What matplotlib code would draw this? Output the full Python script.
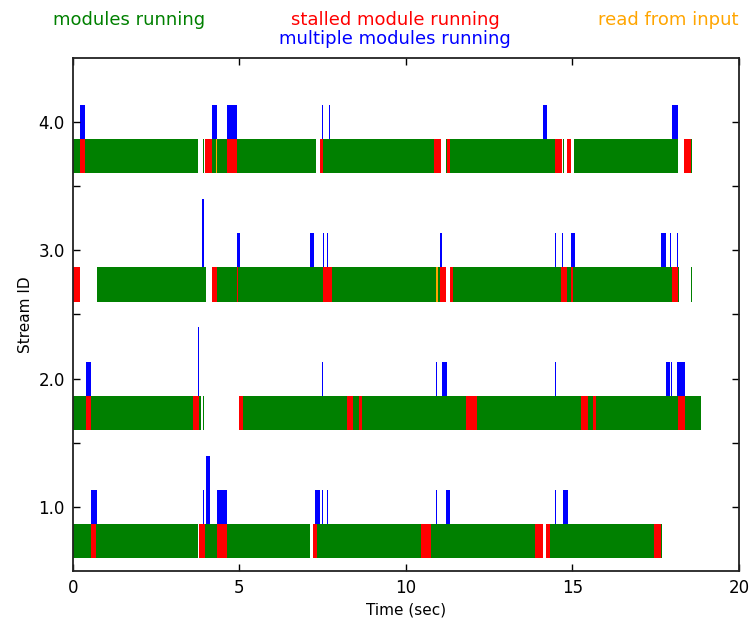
import matplotlib
matplotlib.use("Agg")
import matplotlib.pyplot as plt
from matplotlib.ticker import FixedLocator, FormatStrFormatter

# ---------------- data (seconds) ----------------
stream_ids = [1, 2, 3, 4]
x_ticks = [0, 5, 10, 15, 20]
y_ticks = [1.0, 2.0, 3.0, 4.0]

# stream 1
s1_running = [(0, 3.75), (3.78, 7.12), (7.21, 14.10), (14.20, 17.69)]
s1_stalled = [(0.54, 0.69), (3.78, 3.97), (4.34, 4.63), (7.21, 7.33), (10.45, 10.75),
              (13.88, 14.10), (14.20, 14.32), (17.45, 17.67)]
s1_multi = [(0.54, 0.71), (3.90, 3.93), (4.34, 4.64), (7.27, 7.42), (7.48, 7.51),
            (7.63, 7.66), (10.89, 10.92), (11.20, 11.32), (14.47, 14.50), (14.71, 14.86)]
s1_multi2 = [(3.99, 4.11)]
s1_read = []

# stream 2
s2_running = [(0, 3.85), (3.90, 3.93), (4.99, 18.86)]
s2_stalled = [(0.38, 0.55), (3.61, 3.79), (4.99, 5.11), (8.24, 8.42), (8.59, 8.68),
              (11.79, 12.13), (15.25, 15.46), (15.63, 15.70), (18.16, 18.38)]
s2_multi = [(0.38, 0.55), (7.48, 7.51), (10.89, 10.92), (11.08, 11.23), (14.47, 14.50),
            (17.81, 17.93), (17.97, 18.00), (18.14, 18.38)]
s2_multi2 = [(3.75, 3.78)]
s2_read = []

# stream 3
s3_running = [(0.72, 3.99), (4.17, 11.20), (11.32, 18.20), (18.56, 18.59)]
s3_stalled = [(0, 0.20), (4.17, 4.34), (4.92, 4.97), (7.52, 7.77), (11.01, 11.20),
              (11.32, 11.42), (14.66, 14.85), (14.95, 15.03), (17.99, 18.17)]
s3_multi = [(4.92, 5.01), (7.12, 7.24), (7.50, 7.53), (7.62, 7.65), (11.02, 11.08),
            (14.48, 14.51), (14.68, 14.71), (14.95, 15.07), (17.66, 17.81),
            (17.93, 17.96), (18.14, 18.17)]
s3_multi2 = [(3.87, 3.93)]
s3_read = [10.91]

# stream 4
s4_running = [(0, 3.75), (3.90, 3.93), (3.96, 7.30), (7.42, 11.05), (11.20, 14.69),
              (14.72, 14.75), (15.04, 18.17), (18.55, 18.59)]
s4_stalled = [(0.21, 0.37), (3.96, 4.16), (4.64, 4.92), (7.42, 7.52), (10.83, 11.05),
              (11.23, 11.32), (14.49, 14.69), (14.84, 14.96), (18.35, 18.57)]
s4_multi = [(0.21, 0.37), (4.17, 4.33), (4.64, 4.92), (7.48, 7.51), (7.69, 7.72),
            (14.11, 14.23), (17.99, 18.17)]
s4_multi2 = []
s4_read = [4.30]

# ---------------- drawing ----------------
plt.rcParams["font.family"] = ["DejaVu Sans"]
fig = plt.figure(figsize=(7.5, 6.2), dpi=100, facecolor="white")
ax = fig.add_axes([0.0973, 0.079, 0.888, 0.8275])

H = 0.8 / 3.0


def spans(pairs):
    return [(a, b - a) for a, b in pairs]


def draw_stream(sid, running, stalled, multi, tall, reads):
    base = sid - 0.4
    ax.broken_barh(spans(running), (base, H), facecolors="green", edgecolor="none")
    ax.broken_barh(spans(stalled), (base, H), facecolors="red", edgecolor="none")
    ax.broken_barh(spans(multi), (base + H, H), facecolors="blue", edgecolor="none")
    if tall:
        ax.broken_barh(spans(tall), (base + H, 2 * H), facecolors="blue", edgecolor="none")
    for r in reads:
        ax.broken_barh([(r, 0.04)], (base, H), facecolors="orange", edgecolor="none")


draw_stream(stream_ids[0], s1_running, s1_stalled, s1_multi, s1_multi2, s1_read)
draw_stream(stream_ids[1], s2_running, s2_stalled, s2_multi, s2_multi2, s2_read)
draw_stream(stream_ids[2], s3_running, s3_stalled, s3_multi, s3_multi2, s3_read)
draw_stream(stream_ids[3], s4_running, s4_stalled, s4_multi, s4_multi2, s4_read)

ax.set_xlim(0, 20)
ax.set_ylim(0.5, 4.5)
ax.xaxis.set_major_locator(FixedLocator(x_ticks))
ax.yaxis.set_major_locator(FixedLocator(y_ticks))
ax.yaxis.set_minor_locator(FixedLocator([1.5, 2.5, 3.5]))
ax.yaxis.set_major_formatter(FormatStrFormatter("%.1f"))
ax.tick_params(which="both", direction="in", top=True, right=True, length=5,
               width=1, labelsize=12, pad=6)
for sp in ax.spines.values():
    sp.set_linewidth(1.3)
    sp.set_color("#222222")
ax.set_xlabel("Time (sec)", fontsize=11)
ax.set_ylabel("Stream ID", fontsize=11)

fig.text(0.070, 0.968, "modules running", color="green", ha="left", va="center", fontsize=13)
fig.text(0.527, 0.968, "stalled module running", color="red", ha="center", va="center", fontsize=13)
fig.text(0.985, 0.968, "read from input", color="orange", ha="right", va="center", fontsize=13)
fig.text(0.527, 0.937, "multiple modules running", color="blue", ha="center", va="center", fontsize=13)

fig.savefig("out.png", dpi=100, facecolor="white")
